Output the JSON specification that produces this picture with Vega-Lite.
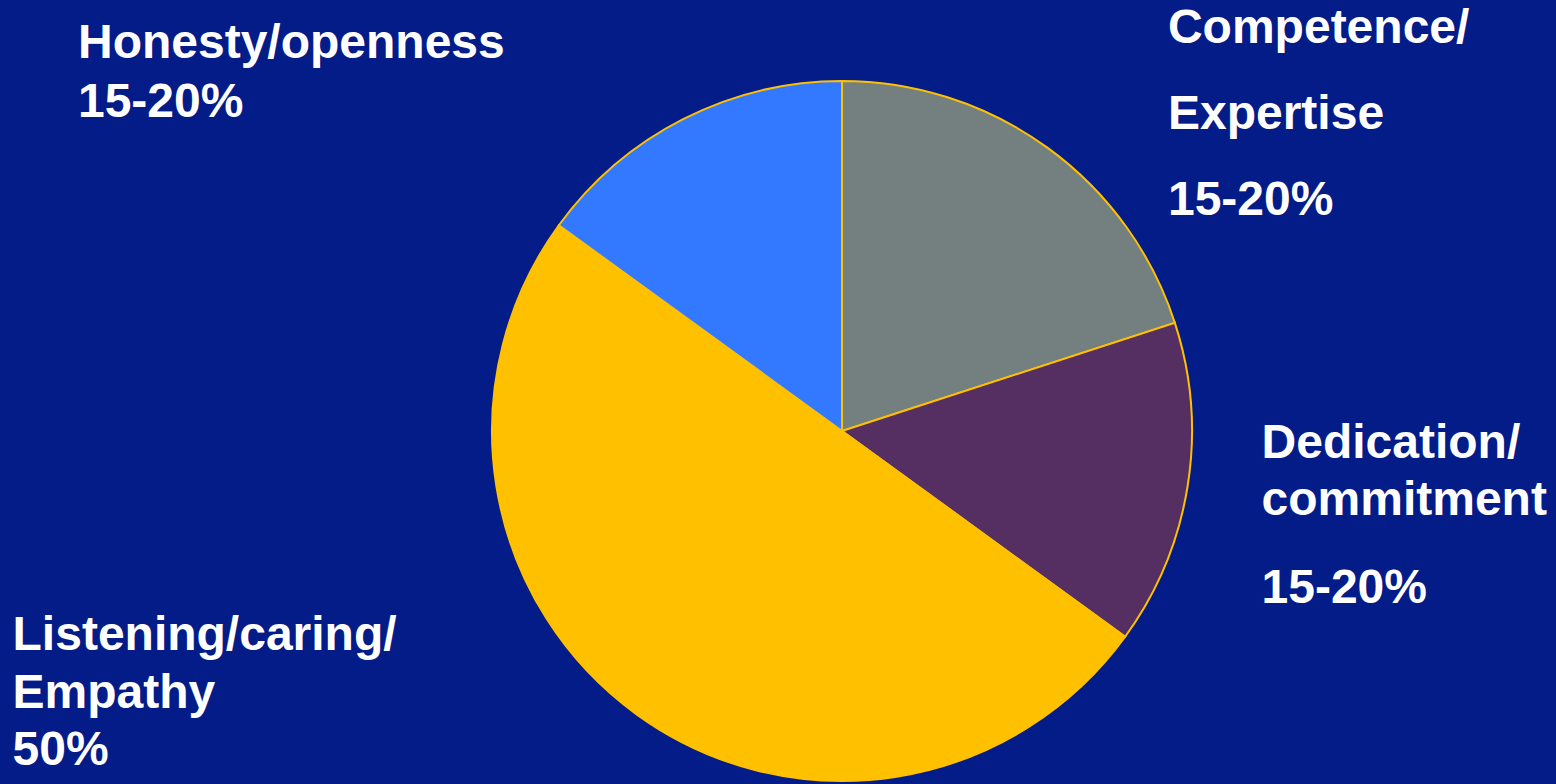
{
  "$schema": "https://vega.github.io/schema/vega-lite/v6.json",
  "width": 1428,
  "height": 706,
  "autosize": {"type": "none"},
  "padding": {"left": 128, "top": 78, "right": 0, "bottom": 0},
  "background": "#031c88",
  "config": {
    "view": {"stroke": null},
    "text": {
      "font": "Liberation Sans",
      "fontWeight": "bold",
      "fontSize": 48,
      "color": "#ffffff",
      "fill": "#ffffff",
      "align": "left",
      "baseline": "alphabetic",
      "lineBreak": "\n",
      "radius": 380
    }
  },
  "data": {
    "values": [
      {"cat": "Competence/Expertise", "rank": 1, "value": 20, "name": "Competence/\nExpertise", "pct": "15-20%"},
      {"cat": "Dedication/commitment", "rank": 2, "value": 15, "name": "Dedication/\ncommitment", "pct": "15-20%"},
      {"cat": "Listening/caring/Empathy", "rank": 3, "value": 50, "name": "Listening/caring/\nEmpathy", "pct": "50%"},
      {"cat": "Honesty/openness", "rank": 4, "value": 15, "name": "Honesty/openness", "pct": "15-20%"}
    ]
  },
  "encoding": {
    "theta": {"field": "value", "type": "quantitative", "stack": true},
    "order": {"field": "rank", "type": "quantitative"},
    "detail": {"field": "cat", "type": "nominal"}
  },
  "layer": [
    {
      "mark": {"type": "arc", "outerRadius": 350, "stroke": "#ffc000", "strokeWidth": 2},
      "encoding": {
        "color": {
          "field": "cat",
          "type": "nominal",
          "scale": {
            "domain": ["Competence/Expertise", "Dedication/commitment", "Listening/caring/Empathy", "Honesty/openness"],
            "range": ["#748080", "#552f62", "#ffc000", "#3379ff"]
          },
          "legend": null
        }
      }
    },
    {
      "mark": {"type": "text", "dx": 102.6, "dy": -80.6, "lineHeight": 86},
      "encoding": {"text": {"condition": {"test": "datum.cat === 'Competence/Expertise'", "field": "name", "type": "nominal"}, "value": ""}}
    },
    {
      "mark": {"type": "text", "dx": 102.6, "dy": 91.4},
      "encoding": {"text": {"condition": {"test": "datum.cat === 'Competence/Expertise'", "field": "pct", "type": "nominal"}, "value": ""}}
    },
    {
      "mark": {"type": "text", "dx": 44.2, "dy": -32.5, "lineHeight": 57},
      "encoding": {"text": {"condition": {"test": "datum.cat === 'Dedication/commitment'", "field": "name", "type": "nominal"}, "value": ""}}
    },
    {
      "mark": {"type": "text", "dx": 44.2, "dy": 112.5},
      "encoding": {"text": {"condition": {"test": "datum.cat === 'Dedication/commitment'", "field": "pct", "type": "nominal"}, "value": ""}}
    },
    {
      "mark": {"type": "text", "dx": -606.1, "dy": -88.4, "lineHeight": 57.5},
      "encoding": {"text": {"condition": {"test": "datum.cat === 'Listening/caring/Empathy'", "field": "name", "type": "nominal"}, "value": ""}}
    },
    {
      "mark": {"type": "text", "dx": -606.1, "dy": 26.6},
      "encoding": {"text": {"condition": {"test": "datum.cat === 'Listening/caring/Empathy'", "field": "pct", "type": "nominal"}, "value": ""}}
    },
    {
      "mark": {"type": "text", "dx": -591.5, "dy": -34.4},
      "encoding": {"text": {"condition": {"test": "datum.cat === 'Honesty/openness'", "field": "name", "type": "nominal"}, "value": ""}}
    },
    {
      "mark": {"type": "text", "dx": -591.5, "dy": 24.6},
      "encoding": {"text": {"condition": {"test": "datum.cat === 'Honesty/openness'", "field": "pct", "type": "nominal"}, "value": ""}}
    }
  ]
}
